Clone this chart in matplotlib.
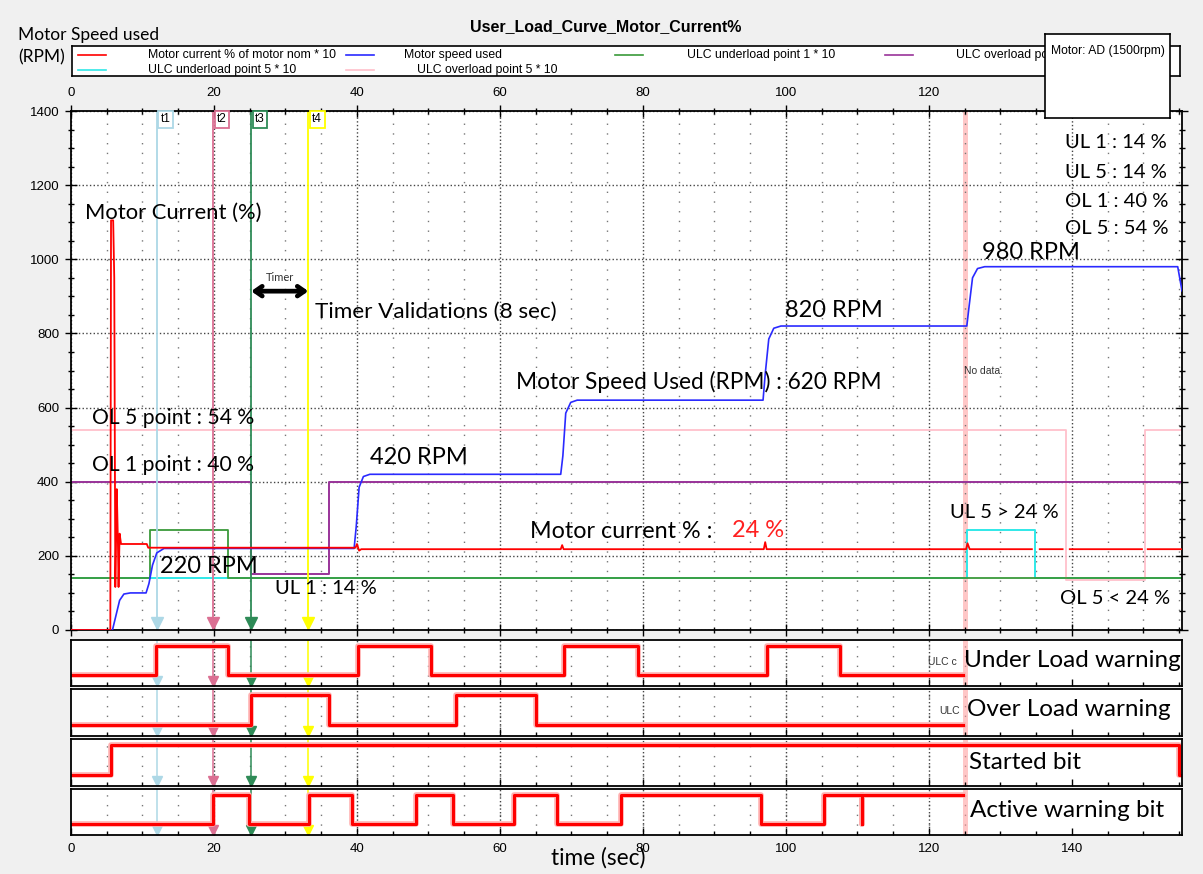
import numpy as np
import matplotlib.pyplot as plt
from matplotlib.ticker import MultipleLocator

plt.rcParams['font.family'] = ['Liberation Sans', 'DejaVu Sans']
NOTE_FONT = ['Lato', 'DejaVu Sans']

# ---- traces, time in seconds ----
speed_t = [0, 5.8, 6.3, 6.8, 7.4, 8.3, 10.5, 10.9, 11.4, 12.0, 13.0,
           39.6, 39.9, 40.3, 40.9, 41.8, 68.5, 68.8, 69.2, 69.9, 70.8,
           96.8, 97.1, 97.6, 98.3, 99.3, 125.3, 125.6, 126.1, 126.8, 127.8,
           154.8, 155.4]
speed_rpm = [0, 0, 40, 80, 97, 100, 100, 125, 175, 208, 220,
             220, 280, 385, 414, 420, 420, 470, 585, 614, 620,
             620, 690, 785, 814, 820, 820, 870, 950, 975, 980,
             980, 915]

nan = np.nan
current_t = [0, 5.5, 5.6, 5.9, 6.05, 6.2, 6.4, 6.55, 6.65, 6.8, 7.0,
             10.6, 10.8, 39.8, 40.0, 40.3, 40.6, 68.5, 68.7, 68.9,
             96.9, 97.1, 97.3, 125.2, 125.4, 125.7,
             134.4, 134.45, 135.5, 138.7, 138.75, 139.7,
             149.8, 149.85, 150.6, 155.4]
current_x10 = [0, 0, 1105, 1105, 950, 116, 380, 250, 116, 260, 232,
               232, 222, 222, 232, 214, 218, 218, 229, 218,
               218, 237, 218, 218, 234, 218,
               218, nan, 218, 218, nan, 218,
               218, nan, 218, 218]

ul1_t = [0, 11.0, 22.0, 155.5]
ul1_x10 = [140, 270, 140, 140]
ul5_t = [0, 125.3, 134.8, 155.5]
ul5_x10 = [140, 270, 140, 140]
ol1_t = [0, 25.2, 36.1, 155.5]
ol1_x10 = [400, 150, 400, 400]
ol5_t = [0, 139.2, 150.2, 155.5]
ol5_x10 = [540, 136, 540, 540]

# digital signals (step, value held until next time)
ul_warn_t = [0, 11.9, 22.0, 40.2, 50.4, 69.0, 79.3, 97.3, 107.6, 124.8]
ul_warn = [0, 1, 0, 1, 0, 1, 0, 1, 0, 0]
ol_warn_t = [0, 25.2, 36.1, 53.9, 65.0, 124.8]
ol_warn = [0, 1, 0, 1, 0, 0]
started_t = [0, 5.6, 155.0, 155.4]
started = [0, 1, 0, 0]
active_t = [0, 19.8, 24.9, 33.3, 39.3, 48.2, 53.5, 61.9, 68.0, 77.0,
            96.5, 105.3, 110.6, 110.7, 124.8]
active = [0, 1, 0, 1, 0, 1, 0, 1, 0, 1, 0, 1, 0, 1, 1]

cursor_names = ['t1', 't2', 't3', 't4']
cursor_t = [12.0, 19.9, 25.2, 33.2]
cursor_colors = ['#add8e6', '#db7093', '#2e8b57', '#ffff00']
no_data_t = (124.7, 125.5)

series_labels = ['Motor current % of motor nom * 10', 'Motor speed used',
                 'ULC underload point 1 * 10', 'ULC overload point 1 * 10',
                 'ULC underload point 5 * 10', 'ULC overload point 5 * 10']
series_colors = ['#ff0000', '#2a2aff', '#3a9a3a', '#993399', '#30e8e8', '#ffc0cb']

W, H = 1203, 874


def px_rect(x0, y0, x1, y1):
    return [x0 / W, 1 - y1 / H, (x1 - x0) / W, (y1 - y0) / H]


fig = plt.figure(figsize=(W / 100, H / 100), dpi=100, facecolor='#f0f0f0')

# ---- main trend axes ----
ax = fig.add_axes(px_rect(71, 111, 1182, 630))
ax.set_xlim(0, 155.4)
ax.set_ylim(0, 1400)
ax.xaxis.set_major_locator(MultipleLocator(20))
ax.xaxis.set_minor_locator(MultipleLocator(5))
ax.yaxis.set_major_locator(MultipleLocator(200))
ax.yaxis.set_minor_locator(MultipleLocator(50))
ax.tick_params(which='both', direction='inout', top=True, right=True,
               labeltop=True, labelbottom=False, labelsize=9.5, pad=4)
ax.tick_params(which='major', length=9, width=1)
ax.tick_params(which='minor', length=5, width=1)
ax.grid(which='major', ls=':', color='#444444', lw=1.0)
ax.grid(which='minor', axis='x', ls=(0, (1, 6)), color='#777777', lw=1.0)
for s in ax.spines.values():
    s.set_linewidth(1.3)

ax.axvspan(*no_data_t, color='#ff9a9a', alpha=0.55, lw=0, zorder=1)

ax.step(ul5_t, ul5_x10, where='post', color=series_colors[4], lw=1.4, zorder=2)
ax.step(ul1_t, ul1_x10, where='post', color=series_colors[2], lw=1.3, zorder=2.1)
ax.step(ol5_t, ol5_x10, where='post', color=series_colors[5], lw=1.3, zorder=2)
ax.step(ol1_t, ol1_x10, where='post', color=series_colors[3], lw=1.4, zorder=2.1)
for name, t, c in zip(cursor_names, cursor_t, cursor_colors):
    ax.axvline(t, color=c, lw=1.3, zorder=2.2)
    ax.plot(t, 20, marker='v', ms=8, color=c, mec=c, zorder=2.3, clip_on=False)
    ax.text(t + 0.55, 1394, name, ha='left', va='top', fontsize=8.5, zorder=4,
            bbox=dict(boxstyle='square,pad=0.2', fc='white', ec=c, lw=1.3))
ax.plot(speed_t, speed_rpm, color=series_colors[1], lw=1.2, zorder=3)
ax.plot(current_t, current_x10, color=series_colors[0], lw=1.3, zorder=3.1)

# timer span between t3 and t4
ax.annotate('', xy=(cursor_t[3], 914), xytext=(cursor_t[2], 914),
            arrowprops=dict(arrowstyle='<->,head_length=0.5,head_width=0.35',
                            lw=3.4, color='black', shrinkA=0, shrinkB=0), zorder=5)
ax.text((cursor_t[2] + cursor_t[3]) / 2, 950, 'Timer', ha='center', va='center',
        fontsize=8, family=NOTE_FONT, color='#333333')

notes = [
    (1.96, 1125, 'Motor Current (%)', 15.8),
    (34.1, 858, 'Timer Validations (8 sec)', 16.2),
    (127.4, 1017, '980 RPM', 17),
    (99.9, 863, '820 RPM', 17),
    (62.2, 669, 'Motor Speed Used (RPM) : 620 RPM', 16.3),
    (41.8, 464, '420 RPM', 17),
    (2.9, 572, 'OL 5 point : 54 %', 15.2),
    (2.9, 445, 'OL 1 point : 40 %', 15.2),
    (12.4, 170, '220 RPM', 17),
    (28.5, 113, 'UL 1 : 14 %', 14.5),
    (64.2, 267, 'Motor current % : ', 16.8),
    (122.9, 316, 'UL 5 > 24 %', 14.5),
    (138.3, 86, 'OL 5 < 24 %', 14.5),
    (139.0, 1314, 'UL 1 : 14 %', 14.5),
    (139.0, 1235, 'UL 5 : 14 %', 14.5),
    (139.0, 1157, 'OL 1 : 40 %', 14.5),
    (139.0, 1082, 'OL 5 : 54 %', 14.5),
]
for x, y, s, size in notes:
    ax.text(x, y, s, ha='left', va='center', fontsize=size, family=NOTE_FONT, zorder=5)
ax.text(92.4, 269, '24 %', ha='left', va='center', fontsize=17,
        family=NOTE_FONT, color='#ff2020', zorder=5)
ax.text(124.9, 699, 'No data.', ha='left', va='center', fontsize=7.5, color='#333333')

# ---- digital signal panels ----
panel_rows = [(640, 686), (689, 736), (739, 786), (789, 835)]
panel_data = [(ul_warn_t, ul_warn, 'Under Load warning', 124.9, 0.5),
              (ol_warn_t, ol_warn, 'Over Load warning', 125.3, 0.5),
              (started_t, started, 'Started bit', 125.6, 0.42),
              (active_t, active, 'Active warning bit', 125.8, 0.47)]
panels = []
for (y0, y1), (t, v, label, tx, ty) in zip(panel_rows, panel_data):
    p = fig.add_axes(px_rect(71, y0, 1182, y1))
    p.set_xlim(0, 155.4)
    p.set_ylim(-0.38, 1.21)
    p.set_yticks([])
    p.xaxis.set_major_locator(MultipleLocator(20))
    p.xaxis.set_minor_locator(MultipleLocator(5))
    p.tick_params(which='both', direction='in', top=False, labelbottom=False)
    p.tick_params(which='major', length=5, width=1)
    p.tick_params(which='minor', length=3, width=1)
    for s in p.spines.values():
        s.set_linewidth(1.3)
    p.vlines(np.arange(20, 160, 20), -0.38, 1.21, colors='#444444', lw=1.0,
             linestyles=':', zorder=0.5)
    p.vlines(np.arange(5, 160, 5), -0.38, 1.21, colors='#777777', lw=1.0,
             linestyles=[(0, (1, 6))], zorder=0.4)
    p.axvspan(no_data_t[1], 156, color='white', lw=0, zorder=0.8)
    p.axvspan(*no_data_t, color='#ff9a9a', alpha=0.55, lw=0, zorder=1)
    for ct, c in zip(cursor_t, cursor_colors):
        p.axvline(ct, color=c, lw=1.1, zorder=1.5)
        p.plot(ct, -0.22, marker='v', ms=7, color=c, zorder=1.6)
    p.step(t, v, where='post', color='#ffb0b0', lw=4.0, zorder=2)
    p.step(t, v, where='post', color='#ff0000', lw=2.2, zorder=2.1)
    p.text(tx, ty, label, ha='left', va='center', fontsize=17.5,
           family=NOTE_FONT, zorder=3)
    panels.append(p)

panels[0].text(119.9, 0.45, 'ULC c', ha='left', va='center', fontsize=7.5, color='#333333')
panels[1].text(121.5, 0.45, 'ULC', ha='left', va='center', fontsize=7.5, color='#333333')
panels[-1].tick_params(labelbottom=True, labelsize=9.5, pad=6)

fig.text(598 / W, 1 - 858 / H, 'time (sec)', ha='center', va='center',
         fontsize=16.3, family=NOTE_FONT)

# ---- header ----
fig.text(606 / W, 1 - 27 / H, 'User_Load_Curve_Motor_Current%', ha='center',
         va='center', fontsize=11.5, weight='bold')
fig.text(18 / W, 1 - 35 / H, 'Motor Speed used', ha='left', va='center',
         fontsize=12.5, family=NOTE_FONT)
fig.text(18 / W, 1 - 57 / H, '(RPM)', ha='left', va='center',
         fontsize=12.5, family=NOTE_FONT)

# legend strip, laid out in pixel units
leg = fig.add_axes(px_rect(72, 46, 1180, 76))
leg.set_xlim(72, 1180)
leg.set_ylim(76, 46)
leg.set_xticks([])
leg.set_yticks([])
leg.set_facecolor('white')
for s in leg.spines.values():
    s.set_linewidth(1.2)
col_x = [78, 346, 615, 885, 78, 346]
row_y = [55, 55, 55, 55, 70, 70]
text_x = [148, 404, 687, 956, 148, 417]
for lab, c, x, y, tx in zip(series_labels, series_colors, col_x, row_y, text_x):
    leg.plot([x, x + 28], [y, y], color=c, lw=1.2)
    leg.text(tx, y, lab, ha='left', va='center', fontsize=8.8, clip_on=True)

box = fig.add_axes(px_rect(1045, 34, 1170, 118))
box.set_xticks([])
box.set_yticks([])
box.set_facecolor('white')
for s in box.spines.values():
    s.set_linewidth(1.2)
box.text(0.5, 0.8, 'Motor: AD (1500rpm)', ha='center', va='center',
         fontsize=8.7, transform=box.transAxes)

fig.savefig('out.png', dpi=100, facecolor=fig.get_facecolor())
